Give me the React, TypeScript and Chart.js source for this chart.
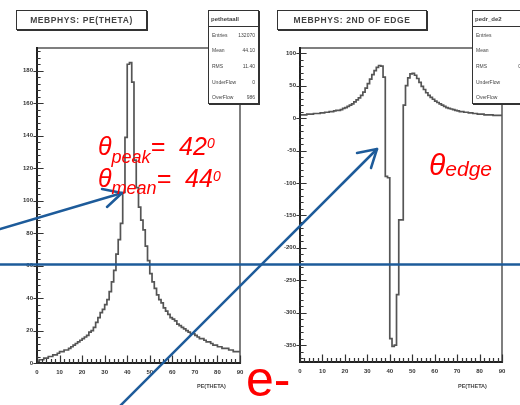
import React, { useEffect, useRef } from "react";
import { Chart, registerables } from "chart.js";

Chart.register(...registerables);

// ---------- data ----------
// bin lower edges (degrees), 1-degree bins from 0 to 90
const binLow: number[] = Array.from({ length: 90 }, (_, i) => i);

// PE(THETA) histogram counts
const peCounts: number[] = [
  1, 2, 2, 3, 3, 4, 4, 5, 5, 6,
  7, 7, 8, 8, 9, 10, 11, 12, 13, 14,
  15, 16, 17, 19, 20, 22, 25, 28, 31, 33,
  36, 39, 44, 50, 57, 67, 76, 86, 105, 139,
  184, 185, 173, 125, 108, 96, 88, 82, 72, 63,
  55, 50, 46, 42, 39, 37, 34, 32, 30, 28,
  27, 26, 24, 23, 22, 21, 20, 19, 18, 18,
  17, 16, 15, 15, 14, 13, 13, 12, 11, 11,
  10, 10, 9, 9, 9, 8, 8, 7, 7, 7,
];

// 2nd derivative of edge histogram
const edgeCounts: number[] = [
  5, 5, 5, 6, 6, 6, 7, 7, 7, 8,
  8, 9, 9, 10, 10, 11, 12, 12, 13, 15,
  16, 18, 20, 22, 25, 28, 31, 35, 40, 46,
  53, 60, 67, 73, 78, 81, 80, 63, -90, -92,
  -340, -352, -350, -272, -157, -157, 20, 50, 62, 68,
  69, 66, 61, 55, 49, 44, 39, 35, 32, 29,
  26, 24, 22, 20, 18, 16, 15, 14, 13, 12,
  11, 10, 10, 9, 9, 8, 8, 7, 7, 6,
  6, 6, 5, 5, 5, 5, 4, 4, 4, 4,
];

const xRange = [0, 90];
const xStep = 10;
const peYRange = [0, 194];
const peYStep = 20;
const edgeYRange = [-376, 108];
const edgeYStep = 50;

const peStats: [string, string][] = [
  ["Entries", "132070"],
  ["Mean", "44.10"],
  ["RMS", "11.40"],
  ["UnderFlow", "0"],
  ["OverFlow", "986"],
];
const edgeStats: [string, string][] = [
  ["Entries", "880"],
  ["Mean", "0"],
  ["RMS", "0.00"],
  ["UnderFlow", "0"],
  ["OverFlow", "0"],
];

// ---------- plugin: ROOT-like frame with inner ticks ----------
const frameTicks = {
  id: "frameTicks",
  afterDatasetsDraw(chart: any, _args: any, opts: any) {
    const { ctx, chartArea: a, scales } = chart;
    const x = scales.x;
    const y = scales.y;
    ctx.save();
    ctx.lineCap = "square";
    ctx.strokeStyle = "#555";
    ctx.lineWidth = 1.5;
    ctx.beginPath();
    ctx.moveTo(a.left, a.top);
    ctx.lineTo(a.right, a.top);
    ctx.lineTo(a.right, a.bottom);
    ctx.stroke();

    ctx.strokeStyle = "#222";
    ctx.lineWidth = 2;
    ctx.beginPath();
    ctx.moveTo(a.left, a.top);
    ctx.lineTo(a.left, a.bottom);
    ctx.lineTo(a.right, a.bottom);
    ctx.stroke();

    ctx.lineWidth = 1.2;
    ctx.strokeStyle = "#333";
    ctx.beginPath();
    const eps = 1e-6;
    for (let v = x.min; v <= x.max + eps; v += opts.xMinor) {
      const px = Math.round(x.getPixelForValue(v)) + 0.5;
      const major = Math.abs(v / opts.xMajor - Math.round(v / opts.xMajor)) < eps;
      const len = major ? 7 : 3.5;
      ctx.moveTo(px, a.bottom);
      ctx.lineTo(px, a.bottom - len);
    }
    const start = Math.ceil(y.min / opts.yMinor) * opts.yMinor;
    for (let v = start; v <= y.max + eps; v += opts.yMinor) {
      const py = Math.round(y.getPixelForValue(v)) + 0.5;
      const major = Math.abs(v / opts.yMajor - Math.round(v / opts.yMajor)) < eps;
      ctx.moveTo(a.left - (major ? 3 : 0), py);
      ctx.lineTo(a.left + (major ? 6 : 3), py);
    }
    ctx.stroke();
    ctx.restore();
  },
};

type HistProps = {
  counts: number[];
  yRange: number[];
  yStep: number;
  yMinor: number;
  left: number;
  yAxisWidth: number;
  padRight: number;
  xAxisHeight: number;
};

function Hist({ counts, yRange, yStep, yMinor, left, yAxisWidth, padRight, xAxisHeight }: HistProps) {
  const ref = useRef<HTMLCanvasElement | null>(null);
  useEffect(() => {
    if (!ref.current) return;
    const pts = binLow.map((b, i) => ({ x: b, y: counts[i] }));
    pts.push({ x: xRange[1], y: counts[counts.length - 1] });
    const tickFont = { family: "'Liberation Sans', Arial, sans-serif", size: 6, weight: "bold" as const };
    const chart = new Chart(ref.current, {
      type: "line",
      data: {
        datasets: [
          {
            data: pts,
            stepped: "before",
            borderColor: "#555",
            borderWidth: 1.7,
            pointRadius: 0,
            fill: false,
            tension: 0,
          },
        ],
      },
      options: {
        responsive: false,
        animation: false,
        events: [],
        layout: { padding: { top: 48, right: padRight, left: 0, bottom: 0 } },
        plugins: {
          legend: { display: false },
          tooltip: { enabled: false },
          frameTicks: { xMinor: 2, xMajor: xStep, yMinor, yMajor: yStep },
        } as any,
        scales: {
          x: {
            type: "linear",
            min: xRange[0],
            max: xRange[1],
            grid: { display: false, drawTicks: false },
            border: { display: false },
            ticks: {
              stepSize: xStep,
              autoSkip: false,
              maxRotation: 0,
              padding: 6,
              color: "#333",
              font: tickFont,
              includeBounds: false,
            },
            afterFit: (s: any) => {
              s.height = xAxisHeight;
            },
          },
          y: {
            type: "linear",
            min: yRange[0],
            max: yRange[1],
            grid: { display: false, drawTicks: false },
            border: { display: false },
            ticks: {
              stepSize: yStep,
              padding: 4,
              color: "#333",
              font: tickFont,
              includeBounds: false,
            },
            afterFit: (s: any) => {
              s.width = yAxisWidth;
            },
          },
        },
      },
      plugins: [frameTicks],
    } as any);
    return () => chart.destroy();
  }, []);
  return (
    <canvas
      ref={ref}
      width={260}
      height={405}
      style={{ position: "absolute", left, top: 0, width: 260, height: 405 }}
    />
  );
}

function TitleBox({ left, width, text }: { left: number; width: number; text: string }) {
  return (
    <div
      style={{
        position: "absolute",
        left,
        top: 10,
        width,
        height: 20,
        boxSizing: "border-box",
        border: "1px solid #333",
        boxShadow: "1px 1px 0 #333",
        background: "#fff",
        display: "flex",
        alignItems: "center",
        justifyContent: "center",
        font: "bold 8.5px 'Liberation Sans', Arial, sans-serif",
        color: "#444",
        letterSpacing: "0.6px",
        whiteSpace: "nowrap",
      }}
    >
      {text}
    </div>
  );
}

function StatBox({ left, width, name, rows }: { left: number; width: number; name: string; rows: [string, string][] }) {
  return (
    <div
      style={{
        position: "absolute",
        left,
        top: 10,
        width,
        height: 94,
        boxSizing: "border-box",
        border: "1px solid #333",
        boxShadow: "1px 1px 0 #333",
        background: "#fff",
        font: "5px 'Liberation Sans', Arial, sans-serif",
        color: "#444",
        overflow: "hidden",
      }}
    >
      <div
        style={{
          height: 15,
          borderBottom: "1px solid #333",
          display: "flex",
          alignItems: "center",
          paddingLeft: 2,
          font: "bold 6px 'Liberation Sans', Arial, sans-serif",
          whiteSpace: "nowrap",
        }}
      >
        {name}
      </div>
      {rows.map(([k, v]) => (
        <div
          key={k}
          style={{
            height: 15.6,
            display: "flex",
            alignItems: "center",
            justifyContent: "space-between",
            padding: "0 3px 0 3px",
            whiteSpace: "nowrap",
          }}
        >
          <span>{k}</span>
          <span>{v}</span>
        </div>
      ))}
    </div>
  );
}

const red = "#ff0000";
const blue = "#1d5b9a";

export default function App() {
  return (
    <div
      style={{
        position: "fixed",
        left: 0,
        top: 0,
        width: 520,
        height: 405,
        overflow: "hidden",
        background: "#fff",
      }}
    >
      <Hist counts={peCounts} yRange={peYRange} yStep={peYStep} yMinor={4} left={0} yAxisWidth={37} padRight={20} xAxisHeight={42} />
      <Hist counts={edgeCounts} yRange={edgeYRange} yStep={edgeYStep} yMinor={10} left={260} yAxisWidth={40} padRight={18} xAxisHeight={43} />

      <TitleBox left={16} width={131} text="MEBPHYS: PE(THETA)" />
      <TitleBox left={277} width={150} text="MEBPHYS: 2ND OF EDGE" />
      <StatBox left={208} width={51} name="pethetaall" rows={peStats} />
      <StatBox left={472} width={60} name="pedr_de2" rows={edgeStats} />

      <div style={{ position: "absolute", left: 197, top: 383, font: "bold 5.5px 'Liberation Sans', Arial, sans-serif", color: "#444" }}>PE(THETA)</div>
      <div style={{ position: "absolute", left: 458, top: 383, font: "bold 5.5px 'Liberation Sans', Arial, sans-serif", color: "#444" }}>PE(THETA)</div>

      <svg width={520} height={405} style={{ position: "absolute", left: 0, top: 0 }}>
        <g stroke={blue} strokeWidth={2.5} fill="none" strokeLinecap="round" strokeLinejoin="round">
          <line x1={0} y1={264.5} x2={520} y2={264.5} />
          <line x1={0} y1={229} x2={122} y2={193} />
          <polyline points="102,189 122,193 107,207" />
          <line x1={118} y1={408} x2={377} y2={149} />
          <polyline points="357,153 377,149 371,168" />
        </g>
      </svg>

      <div style={{ position: "absolute", left: 98, top: 134, font: "italic 25px 'Liberation Sans', Arial, sans-serif", lineHeight: "25px", color: red, whiteSpace: "pre" }}>
        θ<span style={{ fontSize: 18, position: "relative", top: 8 }}>peak</span>{"=  42"}
        <span style={{ fontSize: 14, position: "relative", top: -7 }}>0</span>
      </div>
      <div style={{ position: "absolute", left: 98, top: 166, font: "italic 25px 'Liberation Sans', Arial, sans-serif", lineHeight: "25px", color: red, whiteSpace: "pre" }}>
        θ<span style={{ fontSize: 18, position: "relative", top: 7 }}>mean</span>{"=  44"}
        <span style={{ fontSize: 14, position: "relative", top: -6 }}>0</span>
      </div>
      <div style={{ position: "absolute", left: 429, top: 150, font: "italic 30px 'Liberation Sans', Arial, sans-serif", lineHeight: "30px", color: red, whiteSpace: "pre" }}>
        θ<span style={{ fontSize: 21, position: "relative", top: 1 }}>edge</span>
      </div>
      <div style={{ position: "absolute", left: 246, top: 354, font: "50px 'Liberation Sans', Arial, sans-serif", lineHeight: "50px", color: red, whiteSpace: "pre" }}>
        e-
      </div>
    </div>
  );
}
